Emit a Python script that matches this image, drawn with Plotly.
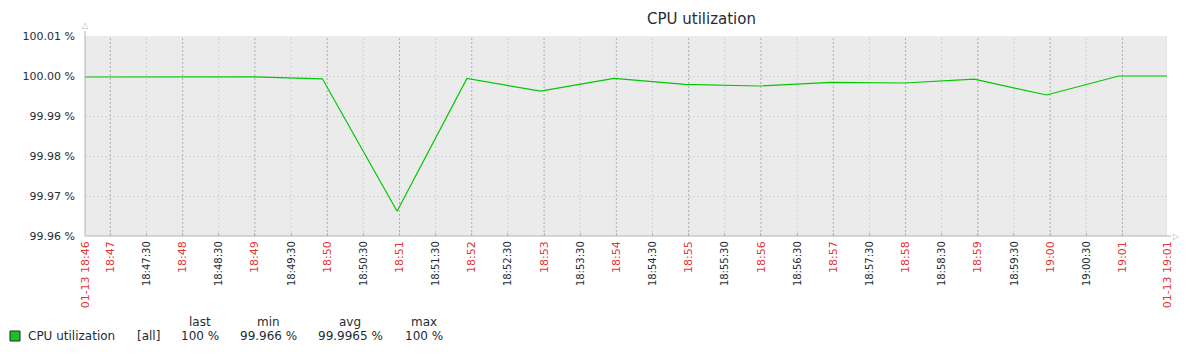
import plotly.graph_objects as go
import pandas as pd

DAY = "2025-01-13 "

# ---- data ----
times = ["18:46:39", "18:46:56", "18:47:56", "18:48:56", "18:49:56", "18:50:58",
         "18:51:56", "18:52:57", "18:53:58", "18:54:57", "18:55:58", "18:56:58",
         "18:57:59", "18:58:57", "18:59:57", "19:00:57", "19:01:37"]
cpu = [99.99975, 99.99975, 99.9999, 99.9998, 99.9993, 99.9662,
       99.9994, 99.9962, 99.9994, 99.9979, 99.9975, 99.9984,
       99.99825, 99.9992, 99.99525, 100.0, 100.0]

x_start = "18:46:39"
x_end = "19:01:37"
minute_ticks = ["18:47", "18:48", "18:49", "18:50", "18:51", "18:52", "18:53",
                "18:54", "18:55", "18:56", "18:57", "18:58", "18:59", "19:00", "19:01"]
half_ticks = ["18:47:30", "18:48:30", "18:49:30", "18:50:30", "18:51:30", "18:52:30",
              "18:53:30", "18:54:30", "18:55:30", "18:56:30", "18:57:30", "18:58:30",
              "18:59:30", "19:00:30"]
start_label = "01-13 18:46"
end_label = "01-13 19:01"

y_ticks = [99.96, 99.97, 99.98, 99.99, 100.00, 100.01]
y_labels = ["99.96 %", "99.97 %", "99.98 %", "99.99 %", "100.00 %", "100.01 %"]

legend_name = "CPU utilization"
legend_func = "[all]"
stat_heads = ["last", "min", "avg", "max"]
stat_vals = ["100 %", "99.966 %", "99.9965 %", "100 %"]

# ---- styles ----
TXT = "#1f2c33"
RED = "#e33434"
GREEN = "#00c800"
AXIS = "#a9b5bd"
GRID_MAJ = "#a3b0b8"
GRID_MIN = "#cbd4d9"
FONT = "DejaVu Sans"
DOT = "2px,2px"


def ts(t):
    if len(t) == 5:
        t = t + ":00"
    return pd.Timestamp(DAY + t)


fig = go.Figure()
fig.add_trace(go.Scatter(
    x=[ts(t) for t in times], y=cpu, mode="lines",
    line=dict(color=GREEN, width=1.2), hoverinfo="skip", showlegend=False))

tickvals = [ts(x_start)] + [ts(t) for t in minute_ticks] + [ts(t) for t in half_ticks] + [ts(x_end)]
ticktext = ([f'<span style="color:{RED};font-size:11px">{start_label}</span>'] +
            [f'<span style="color:{RED};font-size:11px">{t}</span>' for t in minute_ticks] +
            [f'<span style="color:{TXT};font-size:10px">{t}</span>' for t in half_ticks] +
            [f'<span style="color:{RED};font-size:11px">{end_label}</span>'])

shapes = []
for t in half_ticks + [x_end]:
    shapes.append(dict(type="line", xref="x", yref="paper", x0=ts(t), x1=ts(t), y0=0, y1=1,
                       line=dict(color=GRID_MIN, width=1, dash=DOT), layer="below"))
for t in minute_ticks:
    shapes.append(dict(type="line", xref="x", yref="paper", x0=ts(t), x1=ts(t), y0=0, y1=1,
                       line=dict(color=GRID_MAJ, width=1, dash=DOT), layer="below"))
# axes lines
shapes.append(dict(type="line", xref="paper", yref="paper", x0=0, x1=0, y0=0, y1=1.025,
                   line=dict(color=AXIS, width=1)))
shapes.append(dict(type="line", xref="paper", yref="paper", x0=0, x1=1.004, y0=0, y1=0,
                   line=dict(color=AXIS, width=1)))
# legend swatch
shapes.append(dict(type="rect", xref="paper", yref="paper",
                   x0=-75 / 1082, x1=-65 / 1082, y0=-95 / 200, y1=-105 / 200,
                   fillcolor="#1ec21e", line=dict(color="#1f2c33", width=1)))

annotations = [
    dict(text="CPU utilization", xref="paper", yref="paper", x=(701 - 85) / 1082, y=(236 - 19) / 200,
         xanchor="center", yanchor="middle", showarrow=False,
         font=dict(size=15, color=TXT, family=FONT)),
    dict(text="△", xref="paper", yref="paper", x=0, y=1.02, xanchor="center", yanchor="bottom",
         showarrow=False, font=dict(size=8, color=AXIS, family=FONT)),
    dict(text="▷", xref="paper", yref="paper", x=1.004, y=0, xanchor="left", yanchor="middle",
         showarrow=False, font=dict(size=8, color=AXIS, family=FONT)),
    dict(text=legend_name, xref="paper", yref="paper", x=-59 / 1082, y=-100 / 200,
         xanchor="left", yanchor="middle", showarrow=False, font=dict(size=12, color=TXT, family=FONT)),
    dict(text=legend_func, xref="paper", yref="paper", x=(148 - 85) / 1082, y=-100 / 200,
         xanchor="center", yanchor="middle", showarrow=False, font=dict(size=12, color=TXT, family=FONT)),
]
stat_x = [200, 268, 350, 424]
for cx, h, v in zip(stat_x, stat_heads, stat_vals):
    annotations.append(dict(text=h, xref="paper", yref="paper", x=(cx - 85) / 1082, y=-86 / 200,
                            xanchor="center", yanchor="middle", showarrow=False,
                            font=dict(size=12, color=TXT, family=FONT)))
    annotations.append(dict(text=v, xref="paper", yref="paper", x=(cx - 85) / 1082, y=-100 / 200,
                            xanchor="center", yanchor="middle", showarrow=False,
                            font=dict(size=12, color=TXT, family=FONT)))

fig.update_layout(
    width=1198, height=354,
    margin=dict(l=85, r=31, t=36, b=118),
    paper_bgcolor="white", plot_bgcolor="#ebebeb",
    font=dict(family=FONT, color=TXT, size=11),
    shapes=shapes, annotations=annotations,
    xaxis=dict(range=[ts(x_start), ts(x_end)], tickvals=tickvals, ticktext=ticktext,
               tickangle=-90, showgrid=False, zeroline=False, showline=False,
               ticks="inside", ticklen=3, tickcolor=AXIS, ticklabelstandoff=2,
               tickfont=dict(size=11, family=FONT)),
    yaxis=dict(range=[99.96, 100.01], tickvals=y_ticks, ticktext=y_labels,
               showgrid=True, gridcolor=GRID_MIN, griddash=DOT, gridwidth=1,
               zeroline=False, showline=False, ticks="", ticklabelstandoff=9,
               tickfont=dict(size=11, color=TXT, family=FONT)),
)

fig.write_html("out.html")
